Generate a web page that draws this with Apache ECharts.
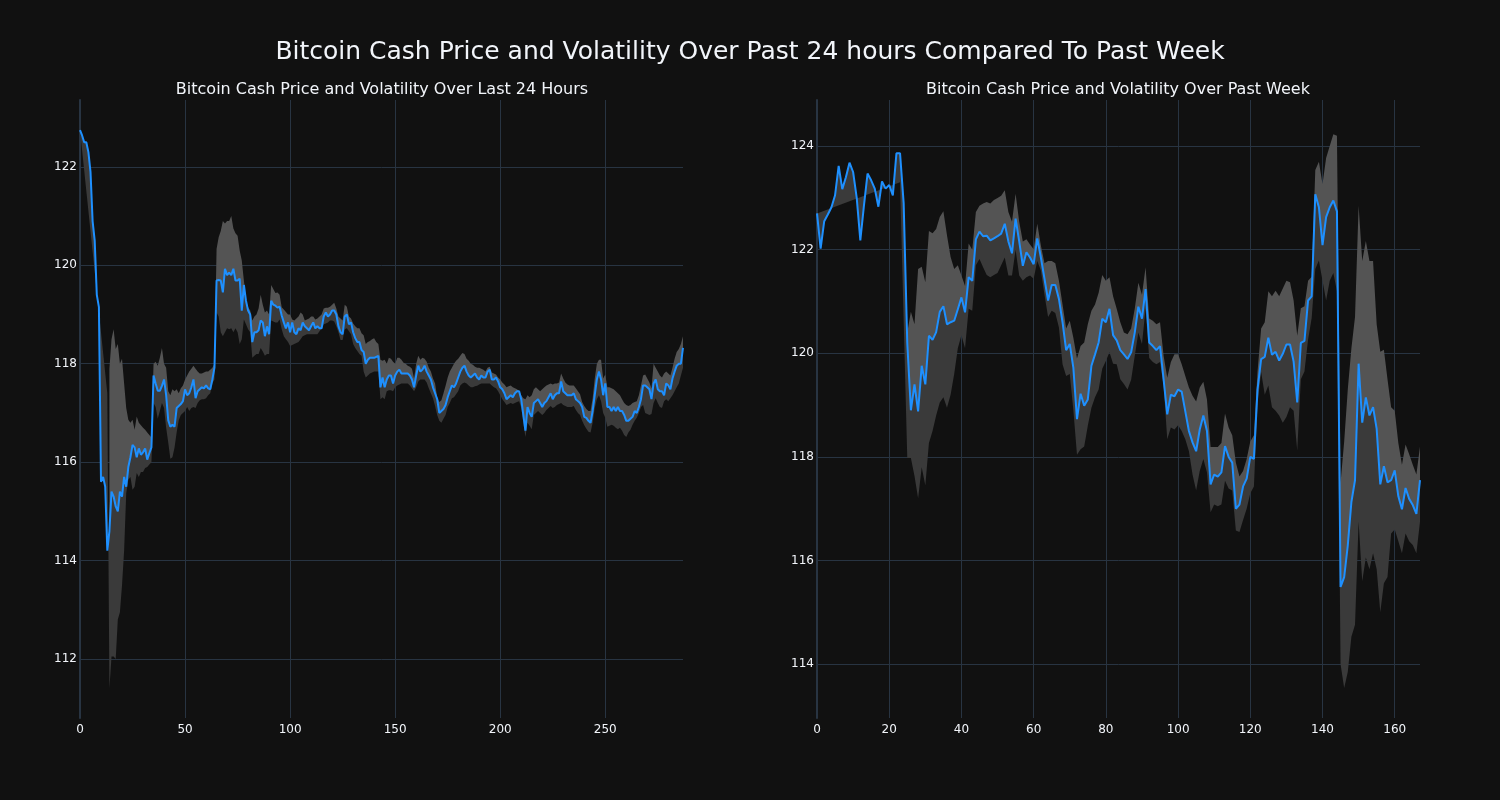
<!DOCTYPE html>
<html><head><meta charset="utf-8">
<script src="https://cdn.jsdelivr.net/npm/echarts@6/dist/echarts.min.js"></script>
<style>html,body{margin:0;padding:0;background:#111111;}#chart{width:1500px;height:800px;}</style>
</head><body><div id="chart"></div>
<script>
// ---- Last 24 hours (5-minute steps, index 0..287) ----
const dayPrice = [
122.75,122.64,122.5,122.5,122.3,121.9,120.9,120.5,119.4,119.15,
115.6,115.7,115.5,114.2,114.6,115.4,115.3,115.1,115.0,115.4,
115.3,115.7,115.5,115.9,116.1,116.35,116.3,116.1,116.28,116.15,
116.2,116.28,116.05,116.18,116.3,117.76,117.6,117.45,117.45,117.55,
117.68,117.36,116.85,116.72,116.76,116.72,117.1,117.14,117.18,117.24,
117.48,117.36,117.4,117.52,117.68,117.3,117.44,117.48,117.52,117.5,
117.56,117.5,117.48,117.68,117.92,119.69,119.7,119.69,119.45,119.93,
119.8,119.85,119.8,119.93,119.69,119.69,119.73,119.08,119.6,119.28,
119.08,119.0,118.44,118.64,118.64,118.68,118.88,118.84,118.56,118.76,
118.6,119.28,119.2,119.18,119.14,119.16,118.98,118.84,118.72,118.84,
118.64,118.84,118.64,118.6,118.72,118.68,118.84,118.76,118.72,118.68,
118.76,118.84,118.72,118.76,118.72,118.72,118.96,119.04,118.96,119.0,
119.08,119.08,119.0,118.76,118.64,118.6,118.96,119.0,118.8,118.84,
118.64,118.52,118.44,118.44,118.28,118.24,118.0,118.08,118.12,118.12,
118.12,118.14,118.16,117.52,117.72,117.52,117.68,117.76,117.76,117.6,
117.76,117.84,117.88,117.8,117.8,117.8,117.8,117.76,117.68,117.52,
117.76,117.96,117.84,117.88,117.96,117.84,117.76,117.68,117.52,117.4,
117.28,117.0,117.04,117.08,117.16,117.32,117.44,117.56,117.52,117.6,
117.72,117.84,117.92,117.96,117.84,117.76,117.72,117.76,117.8,117.72,
117.68,117.76,117.72,117.72,117.84,117.88,117.68,117.68,117.72,117.64,
117.52,117.48,117.4,117.28,117.32,117.36,117.32,117.4,117.44,117.44,
117.28,116.96,116.64,117.12,117.0,116.92,117.2,117.24,117.28,117.2,
117.12,117.2,117.24,117.32,117.4,117.28,117.36,117.4,117.4,117.64,
117.44,117.4,117.36,117.36,117.36,117.4,117.28,117.24,117.2,117.12,
116.92,116.9,116.84,116.8,117.04,117.36,117.68,117.84,117.68,117.36,
117.6,117.12,117.12,117.04,117.12,117.04,117.12,117.04,117.04,116.96,
116.84,116.84,116.88,116.92,117.04,117.0,117.12,117.28,117.56,117.56,
117.52,117.48,117.28,117.6,117.68,117.48,117.44,117.44,117.36,117.6,
117.56,117.48,117.7,117.84,117.96,118.0,118.0,118.32];
const dayUpper = [
null,null,null,null,null,null,null,null,null,null,
null,null,null,null,117.9,118.5,118.7,118.3,118.4,118.0,
118.1,117.6,117.1,116.86,116.8,116.86,116.66,116.93,116.8,116.75,
116.7,116.66,116.6,116.55,116.5,118.0,118.04,117.96,118.12,118.32,
118.0,117.92,117.44,117.36,117.48,117.44,117.48,117.4,117.5,117.56,
117.68,117.76,117.84,117.9,117.96,117.9,117.84,117.8,117.8,117.82,
117.84,117.84,117.88,117.92,118.0,120.33,120.57,120.7,120.9,120.85,
120.9,120.9,121.0,120.75,120.65,120.6,120.3,120.1,119.69,119.3,
119.15,119.08,118.88,118.96,119.0,119.12,119.4,119.2,119.04,119.08,
119.0,119.6,119.52,119.44,119.45,119.4,119.15,119.1,119.05,119.0,
119.0,118.9,118.88,118.92,118.96,119.04,119.0,118.88,118.9,118.92,
118.96,118.96,118.9,118.92,118.96,119.0,119.12,119.14,119.14,119.16,
119.2,119.24,119.12,118.96,118.92,118.88,119.2,119.16,118.96,118.92,
118.82,118.76,118.72,118.72,118.62,118.58,118.4,118.44,118.46,118.5,
118.52,118.44,118.4,118.08,118.06,118.08,118.0,118.12,118.1,118.04,
118.0,118.12,118.12,118.08,118.02,118.0,117.96,117.94,117.9,117.7,
118.0,118.16,118.08,118.12,118.1,118.04,117.92,117.84,117.7,117.6,
117.32,117.22,117.26,117.4,117.55,117.72,117.84,117.92,118.0,118.06,
118.1,118.16,118.22,118.2,118.1,118.06,118.0,117.98,117.94,117.92,
117.92,117.9,117.88,117.84,117.92,117.94,117.82,117.8,117.78,117.72,
117.68,117.62,117.58,117.52,117.54,117.56,117.52,117.5,117.48,117.44,
117.36,117.3,117.28,117.36,117.32,117.36,117.48,117.52,117.48,117.44,
117.48,117.52,117.56,117.58,117.6,117.58,117.6,117.6,117.62,117.8,
117.7,117.62,117.58,117.56,117.56,117.56,117.5,117.44,117.38,117.22,
117.14,117.08,117.04,117.04,117.3,117.7,118.0,118.08,118.08,117.7,
117.78,117.52,117.52,117.5,117.48,117.44,117.4,117.36,117.28,117.2,
117.16,117.14,117.16,117.2,117.22,117.24,117.36,117.56,117.76,117.78,
117.7,117.62,117.5,118.0,117.92,117.84,117.76,117.72,117.8,117.84,
117.8,117.76,117.92,118.1,118.24,118.3,118.4,118.56];
const dayLower = [
122.75,null,null,null,null,null,null,null,null,null,
null,null,null,117.4,111.4,112.05,112.05,112.0,112.8,112.95,
113.5,114.2,115.37,115.64,115.7,115.44,115.5,115.78,115.7,115.8,
115.8,115.88,115.9,115.95,116.0,117.2,117.12,116.88,117.04,117.2,
117.1,116.7,116.4,116.07,116.1,116.3,116.6,116.85,116.96,117.0,
117.04,117.12,117.04,117.1,117.12,117.1,117.2,117.26,117.28,117.28,
117.3,117.36,117.4,117.6,117.68,119.04,118.96,118.64,118.56,118.64,
118.72,118.7,118.72,118.64,118.72,118.64,118.4,118.5,118.9,118.8,
118.7,118.64,118.12,118.16,118.2,118.2,118.32,118.25,118.16,118.2,
118.2,118.88,118.86,118.84,118.84,118.9,118.7,118.56,118.5,118.44,
118.36,118.38,118.4,118.42,118.44,118.5,118.56,118.58,118.6,118.6,
118.6,118.6,118.6,118.6,118.66,118.72,118.8,118.82,118.84,118.88,
118.88,118.86,118.76,118.64,118.48,118.48,118.7,118.72,118.66,118.6,
118.4,118.32,118.26,118.2,118.16,117.84,117.72,117.76,117.8,117.82,
117.84,117.84,117.84,117.28,117.32,117.28,117.44,117.46,117.46,117.44,
117.52,117.56,117.58,117.6,117.6,117.6,117.6,117.56,117.5,117.44,
117.52,117.64,117.68,117.68,117.68,117.62,117.5,117.4,117.3,117.14,
116.96,116.84,116.8,116.88,116.96,117.12,117.2,117.3,117.32,117.38,
117.44,117.56,117.6,117.62,117.6,117.56,117.52,117.52,117.54,117.55,
117.58,117.6,117.6,117.6,117.6,117.6,117.56,117.52,117.5,117.44,
117.36,117.28,117.22,117.16,117.18,117.2,117.18,117.2,117.22,117.24,
117.1,116.8,116.51,116.8,116.74,116.67,116.96,117.0,117.04,117.0,
116.96,117.0,117.06,117.1,117.14,117.1,117.12,117.16,117.18,117.2,
117.16,117.14,117.12,117.12,117.12,117.14,117.06,117.0,116.96,116.84,
116.75,116.68,116.62,116.6,116.8,117.1,117.28,117.36,117.24,117.0,
116.9,116.72,116.74,116.76,116.74,116.7,116.67,116.7,116.64,116.55,
116.51,116.6,116.66,116.76,116.84,116.9,117.0,117.12,117.16,117.0,
116.98,116.96,116.98,117.2,117.3,117.2,117.12,117.1,117.24,117.28,
117.24,117.3,117.36,117.44,117.52,117.6,117.76,117.92];

// ---- Past week (hourly steps, index 0..167) ----
const weekPrice = [
122.7,122.02,122.55,122.68,122.82,123.05,123.62,123.17,123.4,123.68,
123.5,123.0,122.18,122.85,123.47,123.34,123.18,122.83,123.32,123.18,
123.25,123.05,123.86,123.86,122.9,120.2,118.9,119.4,118.88,119.76,
119.4,120.34,120.26,120.41,120.8,120.91,120.56,120.6,120.63,120.85,
121.08,120.79,121.47,121.4,122.2,122.35,122.26,122.27,122.18,122.22,
122.26,122.31,122.5,122.16,121.93,122.6,122.16,121.69,121.95,121.85,
121.72,122.22,121.85,121.44,121.02,121.32,121.32,121.05,120.6,120.06,
120.18,119.72,118.73,119.22,118.99,119.11,119.76,119.98,120.21,120.67,
120.6,120.86,120.35,120.25,120.06,119.98,119.89,120.02,120.4,120.9,
120.67,121.24,120.21,120.14,120.06,120.14,119.49,118.82,119.2,119.17,
119.3,119.26,118.88,118.5,118.28,118.11,118.53,118.8,118.5,117.47,
117.66,117.62,117.7,118.21,118.0,117.89,117.0,117.08,117.43,117.58,
118.0,117.96,119.3,119.89,119.93,120.3,119.97,120.03,119.86,119.99,
120.17,120.17,119.84,119.05,120.2,120.24,121.02,121.1,123.07,122.82,
122.09,122.63,122.82,122.95,122.74,115.49,115.68,116.29,117.13,117.55,
119.8,118.66,119.15,118.8,118.96,118.54,117.47,117.82,117.51,117.55,
117.74,117.24,116.99,117.4,117.19,117.07,116.9,117.55];
const weekUpper = [
null,null,null,null,null,null,null,null,null,null,
null,null,null,null,null,null,null,null,null,null,
null,null,null,null,null,120.4,120.8,120.56,121.63,121.67,
121.37,122.36,122.32,122.4,122.63,122.74,122.28,121.86,121.63,121.7,
121.5,121.3,122.12,122.0,122.73,122.85,122.89,122.92,122.89,122.96,
123.0,123.04,123.15,122.73,122.54,123.08,122.54,122.16,122.2,122.1,
122.01,122.5,122.08,121.74,121.78,121.78,121.74,121.4,120.94,120.48,
120.63,120.3,119.9,120.14,120.21,120.56,120.82,120.94,121.17,121.51,
121.4,121.47,121.1,120.86,120.6,120.4,120.37,120.48,120.86,121.36,
121.13,121.66,120.67,120.63,120.56,120.6,119.95,119.53,119.83,119.98,
119.98,119.79,119.56,119.34,119.18,119.07,119.34,119.45,119.11,118.19,
118.19,118.19,118.27,118.84,118.57,118.42,117.89,117.62,117.73,117.96,
118.3,118.42,119.64,120.48,120.6,121.2,121.1,121.21,121.1,121.25,
121.4,121.37,121.02,120.34,120.87,120.91,121.4,121.48,123.54,123.7,
123.27,123.77,124.0,124.23,124.2,117.5,118.3,119.3,120.1,120.7,
122.85,121.78,122.17,121.78,121.78,120.56,120.03,120.07,119.5,118.96,
118.89,118.27,117.85,118.24,118.05,117.85,117.66,118.2];
const weekLower = [
122.7,null,null,null,null,null,null,null,null,null,
null,null,null,null,null,null,null,null,null,null,
null,null,null,123.3,null,117.98,117.98,117.63,117.2,117.8,
117.45,118.27,118.5,118.8,119.05,119.15,118.95,119.2,119.6,120.1,
120.35,120.1,120.86,120.82,121.7,121.82,121.66,121.51,121.47,121.51,
121.55,121.7,121.85,121.5,121.5,122.0,121.5,121.4,121.47,121.5,
121.44,121.78,121.6,121.13,120.7,120.82,120.78,120.5,119.79,119.56,
119.6,118.9,118.04,118.15,118.2,118.6,118.95,119.15,119.3,119.7,
119.85,120.02,119.8,119.79,119.5,119.41,119.3,119.49,119.95,120.4,
120.18,120.86,119.91,119.83,119.79,119.83,119.37,118.34,118.57,118.53,
118.61,118.5,118.34,118.11,117.66,117.35,117.73,117.96,117.7,116.93,
117.08,117.05,117.08,117.54,117.39,117.35,116.58,116.55,116.78,117.0,
117.3,117.43,119.03,119.64,119.2,119.38,118.96,118.89,118.8,118.66,
118.77,118.96,118.89,118.12,119.5,119.65,120.26,120.68,121.63,121.79,
121.4,121.02,121.4,121.55,121.2,114.0,113.54,113.85,114.53,114.76,
116.75,115.6,116.06,115.83,116.14,115.83,115.0,115.56,115.68,116.52,
116.6,116.37,116.14,116.52,116.37,116.3,116.14,116.75];

// ---- tick labels ----
const dayXTicks = [0, 50, 100, 150, 200, 250];
const dayYTicks = [112, 114, 116, 118, 120, 122];
const weekXTicks = [0, 20, 40, 60, 80, 100, 120, 140, 160];
const weekYTicks = [114, 116, 118, 120, 122, 124];

const mainTitle = 'Bitcoin Cash Price and Volatility Over Past 24 hours Compared To Past Week';
const dayTitle = 'Bitcoin Cash Price and Volatility Over Last 24 Hours';
const weekTitle = 'Bitcoin Cash Price and Volatility Over Past Week';

const FONT = '"DejaVu Sans", sans-serif';
const TEXT = '#f2f5fa';
const GRID = '#283442';
const LIGHT = '#545454';
const DARK = '#3a3a3a';
const BLUE = '#1e90ff';

function bandRenderer(price, edge, color) {
  return function (params, api) {
    if (params.dataIndex !== 0) return null;
    const idx = [];
    edge.forEach((v, i) => { if (v !== null && v !== undefined) idx.push(i); });
    const start = idx[0], end = idx[idx.length - 1];
    const pts = [];
    for (let i = start; i <= end; i++) pts.push(api.coord([i, price[i]]));
    for (let k = idx.length - 1; k >= 0; k--) pts.push(api.coord([idx[k], edge[idx[k]]]));
    return { type: 'polygon', shape: { points: pts }, style: { fill: color }, silent: true };
  };
}

function xAxisCfg(grid, max, ticks) {
  return {
    gridIndex: grid, type: 'value', min: 0, max: max,
    axisLine: { show: false },
    axisTick: { show: false, customValues: ticks },
    axisLabel: { customValues: ticks, color: TEXT, fontSize: 12, fontFamily: FONT, margin: 6 },
    splitLine: { show: true, lineStyle: { color: GRID, width: 1 } }
  };
}
function yAxisCfg(grid, min, max, ticks) {
  return {
    gridIndex: grid, type: 'value', min: min, max: max,
    axisLine: { show: true, onZero: false, lineStyle: { color: GRID, width: 2 } },
    axisTick: { show: false, customValues: ticks },
    axisLabel: { customValues: ticks, color: TEXT, fontSize: 12, fontFamily: FONT, margin: 3 },
    splitLine: { show: true, lineStyle: { color: GRID, width: 1 } }
  };
}

const chart = echarts.init(document.getElementById('chart'), null, { renderer: 'canvas' });
chart.setOption({
  backgroundColor: '#111111',
  animation: false,
  title: [
    { text: mainTitle, left: 745, top: 35, textAlign: 'center',
      textStyle: { color: TEXT, fontSize: 25, fontWeight: 'normal', fontFamily: FONT } },
    { text: dayTitle, left: 377, top: 77, textAlign: 'center',
      textStyle: { color: TEXT, fontSize: 16, fontWeight: 'normal', fontFamily: FONT } },
    { text: weekTitle, left: 1113, top: 77, textAlign: 'center',
      textStyle: { color: TEXT, fontSize: 16, fontWeight: 'normal', fontFamily: FONT } }
  ],
  grid: [
    { left: 80, top: 100, width: 603, height: 618 },
    { left: 817, top: 100, width: 603, height: 618 }
  ],
  xAxis: [xAxisCfg(0, 287, dayXTicks), xAxisCfg(1, 167, weekXTicks)],
  yAxis: [yAxisCfg(0, 110.8, 123.36, dayYTicks), yAxisCfg(1, 112.96, 124.89, weekYTicks)],
  series: [
    { type: 'custom', xAxisIndex: 0, yAxisIndex: 0, data: [[0, dayPrice[0]]],
      renderItem: bandRenderer(dayPrice, dayUpper, LIGHT), z: 1 },
    { type: 'custom', xAxisIndex: 0, yAxisIndex: 0, data: [[0, dayPrice[0]]],
      renderItem: bandRenderer(dayPrice, dayLower, DARK), z: 1 },
    { type: 'line', xAxisIndex: 0, yAxisIndex: 0, data: dayPrice.map((v, i) => [i, v]),
      showSymbol: false, symbol: 'none', lineStyle: { color: BLUE, width: 2 }, itemStyle: { color: BLUE }, z: 3 },
    { type: 'custom', xAxisIndex: 1, yAxisIndex: 1, data: [[0, weekPrice[0]]],
      renderItem: bandRenderer(weekPrice, weekUpper, LIGHT), z: 1 },
    { type: 'custom', xAxisIndex: 1, yAxisIndex: 1, data: [[0, weekPrice[0]]],
      renderItem: bandRenderer(weekPrice, weekLower, DARK), z: 1 },
    { type: 'line', xAxisIndex: 1, yAxisIndex: 1, data: weekPrice.map((v, i) => [i, v]),
      showSymbol: false, symbol: 'none', lineStyle: { color: BLUE, width: 2 }, itemStyle: { color: BLUE }, z: 3 }
  ]
});
</script></body></html>
